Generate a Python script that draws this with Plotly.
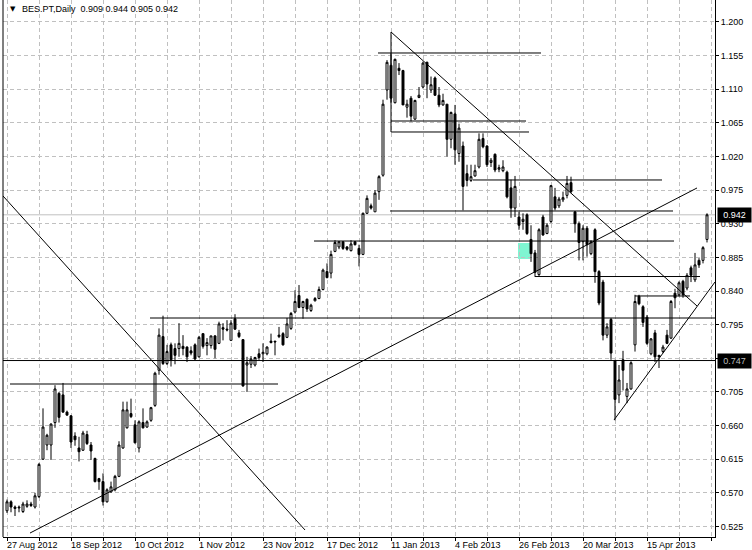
import plotly.graph_objects as go

# ---------------- data ----------------
opens = [0.546, 0.558, 0.551, 0.551, 0.545, 0.552, 0.555, 0.551, 0.565, 0.615,
         0.634, 0.634, 0.664, 0.703, 0.701, 0.678, 0.673, 0.646, 0.630, 0.627,
         0.648, 0.634, 0.616, 0.589, 0.585, 0.558, 0.571, 0.574, 0.592, 0.630,
         0.657, 0.676, 0.661, 0.630, 0.664, 0.658, 0.667, 0.687, 0.734, 0.779,
         0.743, 0.768, 0.763, 0.763, 0.766, 0.765, 0.760, 0.768, 0.752, 0.783,
         0.767, 0.767, 0.780, 0.770, 0.791, 0.789, 0.774, 0.803, 0.784, 0.775,
         0.741, 0.742, 0.741, 0.756, 0.756, 0.756, 0.773, 0.773, 0.779, 0.783,
         0.778, 0.790, 0.812, 0.834, 0.818, 0.829, 0.814, 0.827, 0.830, 0.842,
         0.866, 0.864, 0.893, 0.899, 0.906, 0.899, 0.894, 0.906, 0.897, 0.889,
         0.944, 0.954, 0.946, 0.973, 0.995, 1.109, 1.142, 1.092, 1.138, 1.135,
         1.086, 1.098, 1.070, 1.099, 1.113, 1.146, 1.109, 1.125, 1.102, 1.089,
         1.090, 1.043, 1.077, 1.024, 1.034, 0.997, 0.988, 0.994, 1.006, 1.044,
         1.034, 1.012, 1.023, 1.003, 1.001, 0.999, 0.978, 0.951, 0.939, 0.933,
         0.942, 0.909, 0.891, 0.862, 0.939, 0.917, 0.933, 0.966, 0.954, 0.962,
         0.968, 0.985, 0.946, 0.930, 0.906, 0.924, 0.890, 0.922, 0.866, 0.852,
         0.781, 0.802, 0.747, 0.701, 0.748, 0.699, 0.709, 0.768, 0.833, 0.819,
         0.805, 0.756, 0.784, 0.754, 0.759, 0.781, 0.777, 0.837, 0.835, 0.853,
         0.844, 0.871, 0.855, 0.881, 0.881, 0.909]
highs = [0.561, 0.560, 0.553, 0.553, 0.558, 0.560, 0.558, 0.570, 0.610, 0.683,
         0.649, 0.663, 0.714, 0.705, 0.717, 0.680, 0.674, 0.651, 0.645, 0.653,
         0.653, 0.638, 0.617, 0.590, 0.596, 0.576, 0.585, 0.594, 0.639, 0.692,
         0.692, 0.696, 0.667, 0.667, 0.683, 0.667, 0.685, 0.732, 0.790, 0.807,
         0.768, 0.771, 0.770, 0.797, 0.781, 0.766, 0.766, 0.770, 0.780, 0.783,
         0.777, 0.780, 0.781, 0.799, 0.797, 0.801, 0.801, 0.809, 0.788, 0.775,
         0.752, 0.753, 0.752, 0.763, 0.770, 0.766, 0.783, 0.773, 0.792, 0.785,
         0.804, 0.812, 0.841, 0.848, 0.827, 0.830, 0.823, 0.832, 0.846, 0.870,
         0.877, 0.894, 0.908, 0.906, 0.906, 0.900, 0.908, 0.907, 0.902, 0.945,
         0.968, 0.957, 0.975, 0.995, 1.096, 1.149, 1.158, 1.151, 1.145, 1.136,
         1.096, 1.101, 1.096, 1.113, 1.147, 1.147, 1.127, 1.127, 1.113, 1.104,
         1.090, 1.080, 1.089, 1.064, 1.040, 1.009, 1.009, 1.009, 1.051, 1.051,
         1.035, 1.018, 1.024, 1.009, 1.015, 1.001, 0.989, 0.994, 0.946, 0.944,
         0.944, 0.928, 0.895, 0.924, 0.942, 0.931, 0.982, 0.978, 0.966, 0.973,
         0.994, 0.993, 0.947, 0.933, 0.928, 0.927, 0.908, 0.924, 0.868, 0.855,
         0.797, 0.804, 0.748, 0.741, 0.760, 0.717, 0.746, 0.835, 0.835, 0.821,
         0.808, 0.777, 0.788, 0.754, 0.768, 0.788, 0.828, 0.843, 0.853, 0.855,
         0.864, 0.874, 0.891, 0.884, 0.900, 0.944]
lows = [0.543, 0.544, 0.539, 0.544, 0.543, 0.550, 0.551, 0.549, 0.563, 0.614,
        0.627, 0.614, 0.657, 0.664, 0.677, 0.673, 0.630, 0.633, 0.612, 0.626,
        0.634, 0.614, 0.584, 0.574, 0.553, 0.557, 0.571, 0.572, 0.591, 0.629,
        0.656, 0.670, 0.636, 0.624, 0.656, 0.657, 0.665, 0.685, 0.728, 0.741,
        0.741, 0.739, 0.742, 0.752, 0.754, 0.745, 0.754, 0.748, 0.751, 0.763,
        0.754, 0.763, 0.750, 0.769, 0.774, 0.786, 0.774, 0.788, 0.777, 0.712,
        0.705, 0.737, 0.739, 0.748, 0.745, 0.754, 0.770, 0.754, 0.777, 0.767,
        0.777, 0.788, 0.810, 0.817, 0.803, 0.812, 0.812, 0.826, 0.829, 0.841,
        0.857, 0.857, 0.892, 0.896, 0.895, 0.894, 0.893, 0.901, 0.873, 0.888,
        0.943, 0.949, 0.946, 0.962, 0.993, 1.096, 1.092, 1.091, 1.129, 1.089,
        1.072, 1.067, 1.069, 1.098, 1.111, 1.098, 1.105, 1.101, 1.086, 1.088,
        1.020, 1.031, 1.009, 1.013, 0.948, 0.980, 0.986, 0.993, 1.004, 1.031,
        1.006, 1.006, 0.999, 0.999, 0.999, 0.964, 0.938, 0.939, 0.922, 0.922,
        0.915, 0.879, 0.859, 0.860, 0.914, 0.916, 0.931, 0.948, 0.951, 0.959,
        0.964, 0.971, 0.918, 0.881, 0.881, 0.886, 0.888, 0.851, 0.821, 0.774,
        0.777, 0.748, 0.667, 0.690, 0.707, 0.690, 0.708, 0.759, 0.821, 0.792,
        0.768, 0.754, 0.745, 0.737, 0.757, 0.769, 0.776, 0.817, 0.833, 0.831,
        0.841, 0.852, 0.852, 0.871, 0.877, 0.905]
closes = [0.558, 0.551, 0.549, 0.550, 0.555, 0.555, 0.553, 0.566, 0.608, 0.658,
          0.647, 0.662, 0.709, 0.671, 0.678, 0.674, 0.638, 0.641, 0.625, 0.650,
          0.636, 0.626, 0.585, 0.585, 0.558, 0.574, 0.578, 0.592, 0.634, 0.681,
          0.681, 0.672, 0.637, 0.665, 0.657, 0.665, 0.684, 0.730, 0.781, 0.743,
          0.759, 0.748, 0.754, 0.770, 0.763, 0.752, 0.757, 0.749, 0.778, 0.766,
          0.771, 0.780, 0.762, 0.796, 0.789, 0.788, 0.797, 0.789, 0.779, 0.713,
          0.744, 0.749, 0.751, 0.751, 0.758, 0.765, 0.771, 0.772, 0.781, 0.768,
          0.796, 0.810, 0.826, 0.818, 0.826, 0.816, 0.821, 0.830, 0.842, 0.868,
          0.858, 0.889, 0.905, 0.906, 0.897, 0.896, 0.903, 0.902, 0.889, 0.944,
          0.964, 0.951, 0.971, 0.993, 1.090, 1.146, 1.098, 1.150, 1.135, 1.089,
          1.090, 1.074, 1.095, 1.102, 1.145, 1.117, 1.116, 1.102, 1.089, 1.095,
          1.043, 1.079, 1.029, 1.058, 0.980, 0.988, 0.993, 1.001, 1.043, 1.033,
          1.009, 1.015, 1.002, 1.005, 1.006, 0.966, 0.951, 0.980, 0.928, 0.936,
          0.917, 0.890, 0.865, 0.922, 0.915, 0.928, 0.981, 0.951, 0.963, 0.965,
          0.984, 0.973, 0.930, 0.905, 0.924, 0.902, 0.906, 0.866, 0.824, 0.781,
          0.792, 0.757, 0.695, 0.721, 0.734, 0.709, 0.744, 0.826, 0.823, 0.798,
          0.770, 0.776, 0.752, 0.752, 0.765, 0.770, 0.826, 0.831, 0.851, 0.835,
          0.861, 0.861, 0.875, 0.875, 0.898, 0.942]
bars = list(range(len(opens)))

date_labels = ["27 Aug 2012", "18 Sep 2012", "10 Oct 2012", "1 Nov 2012",
               "23 Nov 2012", "17 Dec 2012", "11 Jan 2013", "4 Feb 2013",
               "26 Feb 2013", "20 Mar 2013", "15 Apr 2013"]
date_label_bars = [0, 16, 32, 48, 64, 80, 96, 112, 128, 144, 160]
grid_bars = list(range(0, 177, 8))

price_ticks = [0.525, 0.570, 0.615, 0.660, 0.705, 0.750, 0.795, 0.840,
               0.885, 0.930, 0.975, 1.020, 1.065, 1.110, 1.155, 1.200]
price_tick_text = ["0.525", "0.570", "0.615", "0.660", "0.705", "", "0.795",
                   "0.840", "0.885", "0.930", "0.975", "1.020", "1.065", "1.110",
                   "1.155", "1.200"]

last_price = 0.942
level_price = 0.747

# user-drawn horizontal lines: (start bar, end bar, price)
hlines = [(0.75, 67.75, 0.7156), (35.75, 177, 0.8039), (-1, 177, 0.747),
          (76.75, 166.75, 0.9069), (95.75, 166.5, 0.9471), (116.5, 163.75, 0.9886),
          (92.75, 133.5, 1.1585), (96, 129.75, 1.0675), (96, 130.5, 1.0528),
          (132, 173.25, 0.8594), (157, 170.75, 0.8334)]
# user-drawn trend lines: (bar0, price0, bar1, price1)
tlines = [(96, 1.1866, 96, 1.0528), (96, 1.1866, 172.5, 0.8200),
          (5.75, 0.5162, 172.5, 0.9779), (151.75, 0.6674, 177, 0.8521),
          (-1, 0.9672, 74.5, 0.5203)]
# highlighted rectangle: (bar0, bar1, price0, price1)
rects = [(127.75, 130.75, 0.8829, 0.9043)]

# ---------------- figure ----------------
FONT = "Liberation Sans, Arial, sans-serif"

fig = go.Figure()
fig.add_trace(go.Candlestick(
    x=bars, open=opens, high=highs, low=lows, close=closes,
    increasing=dict(line=dict(color="black", width=1), fillcolor="white"),
    decreasing=dict(line=dict(color="black", width=1), fillcolor="black"),
    whiskerwidth=0, showlegend=False, hoverinfo="skip"))

shapes = []
shapes.append(dict(type="line", xref="x", yref="y", x0=-1, x1=177,
                   y0=last_price, y1=last_price, layer="below",
                   line=dict(color="#C0C0C0", width=1)))
for x0, x1, p0, p1 in rects:
    shapes.append(dict(type="rect", xref="x", yref="y", x0=x0, x1=x1, y0=p0, y1=p1,
                       fillcolor="#7FF5D2", line=dict(width=0), layer="below"))
for x0, x1, p in hlines:
    shapes.append(dict(type="line", xref="x", yref="y", x0=x0, x1=x1, y0=p, y1=p,
                       line=dict(color="black", width=1)))
for x0, p0, x1, p1 in tlines:
    shapes.append(dict(type="line", xref="x", yref="y", x0=x0, x1=x1, y0=p0, y1=p1,
                       line=dict(color="black", width=1)))
shapes.append(dict(type="line", xref="paper", yref="paper", x0=0, x1=0, y0=0, y1=1,
                   line=dict(color="black", width=1)))

annotations = []
for lab, b in zip(date_labels, date_label_bars):
    annotations.append(dict(x=b - 0.5, y=0, xref="x", yref="paper", text=lab,
                            showarrow=False, xanchor="left", yanchor="top",
                            yshift=-1, font=dict(family=FONT, size=9, color="black")))
annotations.append(dict(x=1, y=last_price, xref="paper", yref="y", text=f"{last_price:.3f}",
                        showarrow=False, xanchor="left", yanchor="middle", xshift=2,
                        bgcolor="black", width=31, height=12, borderpad=1,
                        font=dict(family=FONT, size=9, color="white")))
annotations.append(dict(x=1, y=level_price, xref="paper", yref="y", text=f"{level_price:.3f}",
                        showarrow=False, xanchor="left", yanchor="middle", xshift=2,
                        bgcolor="black", width=31, height=12, borderpad=1,
                        font=dict(family=FONT, size=9, color="#BDBDBD")))
annotations.append(dict(x=0, y=1, xref="paper", yref="paper", text="▼",
                        showarrow=False, xanchor="left", yanchor="top", xshift=5, yshift=-3,
                        font=dict(family="DejaVu Sans", size=7, color="black")))
annotations.append(dict(x=0, y=1, xref="paper", yref="paper",
                        text="BES.PT,Daily  0.909 0.944 0.905 0.942",
                        showarrow=False, xanchor="left", yanchor="top", xshift=17, yshift=-2,
                        font=dict(family=FONT, size=9, color="black")))

fig.update_layout(
    width=752, height=550, autosize=False,
    margin=dict(l=3, r=37, t=0, b=13, pad=0),
    paper_bgcolor="white", plot_bgcolor="white",
    showlegend=False, boxgap=0.3,
    shapes=shapes, annotations=annotations,
    xaxis=dict(range=[-1, 177], rangeslider=dict(visible=False),
               tickmode="array", tickvals=grid_bars, showticklabels=False,
               ticks="outside", ticklen=3, tickcolor="black",
               showgrid=True, gridcolor="#C0C0C0", griddash="4px,3px", gridwidth=1,
               showline=True, linecolor="black", linewidth=1, zeroline=False,
               fixedrange=True),
    yaxis=dict(range=[0.5109, 1.2294], side="right",
               tickmode="array", tickvals=price_ticks, ticktext=price_tick_text,
               ticks="outside", ticklen=3, tickcolor="black",
               tickfont=dict(family=FONT, size=9, color="black"),
               showgrid=True, gridcolor="#C0C0C0", griddash="4px,3px", gridwidth=1,
               showline=True, linecolor="black", linewidth=1, zeroline=False,
               fixedrange=True),
)

fig.write_html("out.html", config={"displayModeBar": False},
               post_script="document.body.style.margin='0px';document.body.style.overflow='hidden';")
